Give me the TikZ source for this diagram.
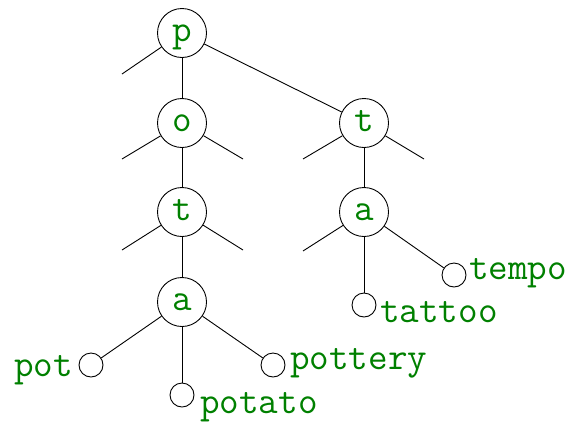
\documentclass[tikz,border=0pt]{standalone}
\definecolor{lbl}{RGB}{0,128,0}
\begin{document}
\begin{tikzpicture}[x=1pt,y=-1pt,
  inner/.style={circle,draw,line width=0.9pt,minimum size=49pt,inner sep=0pt,
    text height=16pt,text depth=0pt,font=\fontsize{38}{42}\selectfont\ttfamily,text=lbl},
  leaf/.style={circle,draw,line width=0.9pt,minimum size=24pt,inner sep=0pt},
  lab/.style={inner sep=0pt,font=\fontsize{38}{42}\selectfont\ttfamily,text=lbl},
  edge/.style={line width=0.9pt}]
\useasboundingbox (0,0) rectangle (569,421);
% inner nodes
\node[inner] (p)  at (182,33)  {p};
\node[inner] (o)  at (182,123) {o};
\node[inner] (t1) at (182,212) {t};
\node[inner] (a1) at (182,302) {a};
\node[inner] (t2) at (364,123) {t};
\node[inner] (a2) at (364,212) {a};
% leaves
\node[leaf] (l1) at (91,365)  {};
\node[leaf] (l2) at (182,395) {};
\node[leaf] (l3) at (273,365) {};
\node[leaf] (l4) at (364,305) {};
\node[leaf] (l5) at (454,275) {};
% stub ends
\coordinate (s1) at (122,74);
\coordinate (s2) at (122,159);
\coordinate (s3) at (243,159);
\coordinate (s4) at (122,250);
\coordinate (s5) at (243,250);
\coordinate (s6) at (303,159);
\coordinate (s7) at (424,159);
\coordinate (s8) at (303,251);
% edges
\draw[edge] (p) -- (o);
\draw[edge] (p) -- (t2);
\draw[edge] (o) -- (t1);
\draw[edge] (t1) -- (a1);
\draw[edge] (a1) -- (l1);
\draw[edge] (a1) -- (l2);
\draw[edge] (a1) -- (l3);
\draw[edge] (t2) -- (a2);
\draw[edge] (a2) -- (l4);
\draw[edge] (a2) -- (l5);
\draw[edge] (p) -- (s1);
\draw[edge] (o) -- (s2);
\draw[edge] (o) -- (s3);
\draw[edge] (t1) -- (s4);
\draw[edge] (t1) -- (s5);
\draw[edge] (t2) -- (s6);
\draw[edge] (t2) -- (s7);
\draw[edge] (a2) -- (s8);
% labels
\node[lab,anchor=base east] (lpot) at (73,376) {pot};
\node[lab,anchor=base west] (lpotato) at (200,413) {potato};
\node[lab,anchor=base west] (lpottery) at (290,369) {pottery};
\node[lab,anchor=base west] (ltattoo) at (380,322) {tattoo};
\node[lab,anchor=base west] (ltempo) at (469,279) {tempo};
\end{tikzpicture}
\end{document}
